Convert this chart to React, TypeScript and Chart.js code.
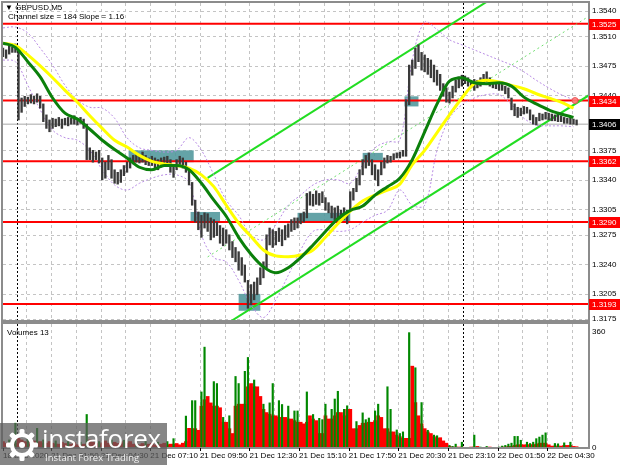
import React, { useEffect, useRef } from "react";
import { Chart, registerables } from "chart.js";
Chart.register(...registerables);

const FONT = '"Liberation Sans", Arial, sans-serif';

// ---- x axis (bar index of 5-minute bars) ----
const xMin = 0;
const xMax = 378;
const xLabelIdx = [0, 31, 63, 95, 127, 159, 191, 223, 255, 287, 319, 351];
const xLabels = ["18 Dec 2020", "21 Dec 01:50", "21 Dec 04:30", "21 Dec 07:10", "21 Dec 09:50", "21 Dec 12:30", "21 Dec 15:10", "21 Dec 17:50", "21 Dec 20:30", "21 Dec 23:10", "22 Dec 01:50", "22 Dec 04:30"];
const xGridIdx = [15, 31, 47, 63, 79, 95, 111, 127, 143, 159, 175, 191, 207, 223, 239, 255, 271, 287, 303, 319, 335, 351, 367];
const daySepIdx = [9, 297];

// ---- price axis ----
const priceMin = 1.31729;
const priceMax = 1.35495;
const priceTicks = [1.354, 1.351, 1.3475, 1.344, 1.3375, 1.334, 1.3305, 1.3275, 1.324, 1.3205, 1.3175];
const levels = [1.3525, 1.3434, 1.3362, 1.329, 1.3193];
const currentPrice = 1.3406;
const alertIdx = 369;
const alertPrice = 1.3434;

// ---- price bars (one sample every 2 bars) ----
const candleHigh = [
  1.3496, 1.3494, 1.3499, 1.3497, 1.3501, 1.3496, 1.3437, 1.3439, 1.3438, 1.3441,
  1.3439, 1.3442, 1.3439, 1.343, 1.3417, 1.3411, 1.3413, 1.3412, 1.3414, 1.3412,
  1.3413, 1.3414, 1.3413, 1.3416, 1.3413, 1.3414, 1.3412, 1.3406, 1.3378, 1.3375,
  1.3373, 1.3375, 1.3366, 1.3361, 1.3369, 1.3364, 1.3352, 1.3349, 1.3352, 1.3357,
  1.3361, 1.3366, 1.3369, 1.3371, 1.3368, 1.3373, 1.3369, 1.3366, 1.3368, 1.3366,
  1.3364, 1.3366, 1.3367, 1.3368, 1.3364, 1.3358, 1.3364, 1.3368, 1.3366, 1.3361,
  1.3354, 1.3337, 1.3316, 1.3302, 1.3298, 1.3301, 1.33, 1.3295, 1.3293, 1.329,
  1.3286, 1.3283, 1.3281, 1.3275, 1.3267, 1.326, 1.3255, 1.3248, 1.3239, 1.3221,
  1.3216, 1.3219, 1.3224, 1.3236, 1.3243, 1.3275, 1.3283, 1.3281, 1.3279, 1.3283,
  1.3281, 1.3286, 1.3288, 1.3293, 1.3295, 1.3295, 1.33, 1.3302, 1.3324, 1.3326,
  1.3323, 1.3327, 1.3324, 1.3326, 1.3319, 1.3313, 1.3309, 1.3307, 1.3309, 1.3304,
  1.3307, 1.3304, 1.3326, 1.333, 1.3342, 1.3352, 1.3364, 1.3369, 1.3372, 1.3364,
  1.3358, 1.3352, 1.3361, 1.3366, 1.3369, 1.3368, 1.3371, 1.3372, 1.3373, 1.3375,
  1.3435, 1.3476, 1.3482, 1.3496, 1.35, 1.3491, 1.3488, 1.3484, 1.3482, 1.3476,
  1.347, 1.3465, 1.3454, 1.3449, 1.3444, 1.3451, 1.3458, 1.3462, 1.3464, 1.3463,
  1.3461, 1.3458, 1.3459, 1.3458, 1.3461, 1.3465, 1.3468, 1.3461, 1.3458, 1.3456,
  1.3455, 1.3454, 1.3451, 1.3449, 1.3437, 1.343, 1.3426, 1.3425, 1.3427, 1.3426,
  1.3423, 1.3417, 1.3414, 1.3419, 1.3418, 1.342, 1.3419, 1.3418, 1.3417, 1.3418,
  1.3416, 1.3414, 1.3413, 1.3414, 1.3412, 1.3411,
];
const candleLow = [
  1.3486, 1.3484, 1.3489, 1.3491, 1.3491, 1.3411, 1.342, 1.3427, 1.343, 1.3431,
  1.343, 1.3432, 1.3425, 1.3409, 1.3401, 1.3397, 1.3401, 1.3403, 1.3404, 1.3401,
  1.3405, 1.3404, 1.3406, 1.3406, 1.3405, 1.3407, 1.3401, 1.3364, 1.3364, 1.3361,
  1.3364, 1.336, 1.334, 1.3342, 1.3352, 1.3342, 1.3336, 1.3335, 1.3337, 1.3345,
  1.3349, 1.3354, 1.3359, 1.3361, 1.336, 1.3361, 1.3358, 1.3357, 1.3357, 1.3354,
  1.3352, 1.3355, 1.3357, 1.3358, 1.3349, 1.3343, 1.3352, 1.3358, 1.3354, 1.3349,
  1.3334, 1.331, 1.329, 1.3281, 1.3272, 1.3283, 1.3279, 1.3269, 1.3272, 1.3274,
  1.3265, 1.3262, 1.3265, 1.3257, 1.3248, 1.3243, 1.3233, 1.3227, 1.3219, 1.3188,
  1.3192, 1.3198, 1.3204, 1.3216, 1.3224, 1.3236, 1.3263, 1.326, 1.3263, 1.3267,
  1.3262, 1.3269, 1.3272, 1.3279, 1.3281, 1.3283, 1.3288, 1.329, 1.3295, 1.331,
  1.3309, 1.3311, 1.331, 1.3313, 1.3304, 1.3301, 1.3295, 1.3293, 1.3295, 1.329,
  1.3293, 1.3288, 1.3304, 1.3316, 1.3326, 1.3334, 1.3346, 1.3354, 1.3357, 1.3346,
  1.334, 1.3333, 1.3346, 1.3354, 1.336, 1.3361, 1.3364, 1.3366, 1.3366, 1.3368,
  1.3368, 1.3429, 1.3464, 1.3472, 1.348, 1.347, 1.3468, 1.3465, 1.3461, 1.3456,
  1.3452, 1.3446, 1.3439, 1.3432, 1.3431, 1.3437, 1.3444, 1.3449, 1.3451, 1.3454,
  1.3451, 1.3449, 1.3446, 1.3449, 1.3451, 1.3455, 1.3456, 1.3451, 1.3449, 1.3448,
  1.3446, 1.3446, 1.3442, 1.3437, 1.3423, 1.3416, 1.3414, 1.3416, 1.3418, 1.3419,
  1.3411, 1.3406, 1.3405, 1.341, 1.3411, 1.3412, 1.3411, 1.341, 1.341, 1.3409,
  1.3409, 1.3407, 1.3407, 1.3406, 1.3406, 1.3405,
];

// ---- indicators (one sample every 8 bars) ----
const maYellow = [
  1.3502, 1.3499, 1.3488, 1.3475, 1.3461, 1.3446, 1.3432, 1.3416, 1.3401, 1.3387,
  1.3379, 1.3369, 1.3362, 1.3359, 1.3357, 1.3354, 1.3346, 1.3332, 1.331, 1.3289,
  1.3273, 1.3257, 1.325, 1.3249, 1.3251, 1.3257, 1.3272, 1.3288, 1.3303, 1.3315,
  1.3322, 1.3328, 1.3335, 1.3358, 1.3375, 1.3396, 1.3417, 1.3437, 1.3454, 1.3458,
  1.3456, 1.3452, 1.3448, 1.3442, 1.3437, 1.3432, 1.3425,
];
const maGreen = [
  1.3502, 1.3497, 1.348, 1.3462, 1.3437, 1.3419, 1.3412, 1.34, 1.3387, 1.3376,
  1.3366, 1.3355, 1.3352, 1.3357, 1.3357, 1.3352, 1.3336, 1.3316, 1.3297, 1.3272,
  1.3252, 1.3237, 1.323, 1.3236, 1.3248, 1.3263, 1.3279, 1.3294, 1.3304, 1.3309,
  1.3322, 1.3332, 1.3342, 1.3364, 1.3397, 1.343, 1.3457, 1.3461, 1.3455, 1.3454,
  1.3455, 1.3451, 1.3438, 1.343, 1.3423, 1.3418, 1.3414,
];
const bandUpper = [
  1.352, 1.3521, 1.3514, 1.3496, 1.3476, 1.3452, 1.3435, 1.3426, 1.3425, 1.3413,
  1.339, 1.3378, 1.3375, 1.3373, 1.3375, 1.339, 1.3375, 1.3346, 1.3316, 1.3298,
  1.3275, 1.3269, 1.3287, 1.331, 1.3322, 1.3334, 1.334, 1.334, 1.3336, 1.3358,
  1.3378, 1.3385, 1.3387, 1.3482, 1.3527, 1.3518, 1.3506, 1.35, 1.3494, 1.3488,
  1.3482, 1.3476, 1.3468, 1.3458, 1.3449, 1.3441, 1.3435,
];
const bandLower = [
  1.3482, 1.348, 1.3452, 1.3423, 1.3399, 1.339, 1.3387, 1.3375, 1.3352, 1.3334,
  1.3328, 1.3336, 1.3342, 1.3346, 1.3346, 1.3337, 1.3275, 1.3248, 1.3243, 1.3221,
  1.3192, 1.3177, 1.3198, 1.3227, 1.3257, 1.3279, 1.3281, 1.3279, 1.3281, 1.329,
  1.3298, 1.3304, 1.3328, 1.331, 1.331, 1.3375, 1.3413, 1.3429, 1.3437, 1.3441,
  1.3441, 1.3429, 1.3413, 1.3405, 1.3404, 1.3404, 1.3403,
];

// ---- regression channel ----
const chanIdx = [132, 378];
const chanUpper = [1.33423, 1.36274];
const chanMid = [1.32488, 1.35339];
const chanLower = [1.31552, 1.34403];

// ---- highlight boxes ----
const boxStart = [81, 121, 152, 190, 232, 259];
const boxEnd = [123, 140, 166, 224, 245, 268];
const boxHigh = [1.3375, 1.3302, 1.3205, 1.3301, 1.3372, 1.3439];
const boxLow = [1.3361, 1.329, 1.3185, 1.3289, 1.3361, 1.3427];

// ---- volumes (one sample every 2 bars) ----
const volumeMax = 384.8;
const volumeTicks = [0, 360];
const volRed = [
  20, 15, 15, 18, 15, 30, 25, 20, 18, 18,
  22, 18, 20, 15, 15, 20, 15, 12, 12, 18,
  14, 12, 12, 16, 10, 10, 12, 12, 25, 18,
  14, 12, 16, 22, 15, 15, 18, 14, 20, 15,
  15, 20, 12, 10, 10, 14, 10, 12, 15, 10,
  10, 12, 15, 10, 12, 12, 14, 10, 15, 20,
  61, 60, 60, 55, 130, 150, 160, 140, 130, 130,
  125, 80, 80, 60, 45, 130, 136, 136, 136, 190,
  200, 190, 190, 160, 120, 110, 105, 100, 100, 95,
  95, 95, 90, 90, 85, 80, 80, 75, 80, 100,
  90, 85, 45, 45, 100, 90, 90, 100, 110, 110,
  100, 120, 120, 60, 60, 70, 77, 77, 80, 80,
  85, 100, 95, 60, 60, 50, 50, 40, 35, 30,
  30, 30, 254, 141, 100, 75, 60, 50, 45, 35,
  30, 32, 22, 15, 5, 3, 3, 3, 3, 2,
  2, 3, 3, 5, 2, 2, 2, 3, 2, 1,
  1, 3, 3, 5, 5, 8, 10, 10, 10, 10,
  10, 10, 12, 15, 15, 15, 10, 6, 6, 6,
  6, 8, 8, 8, 5, 4,
];
const volGreen = [
  null, null, 25, null, 77, null, null, null, 28, null,
  null, 61, null, 25, null, null, null, 22, null, null,
  null, 20, null, null, null, 18, null, 104, null, null,
  null, 20, null, null, null, 25, null, null, null, 24,
  null, null, null, 18, null, null, 20, null, null, null,
  18, null, null, 20, null, 29, null, null, null, 99,
  null, 147, 147, null, 174, 313, null, null, 206, 200,
  null, 95, null, 100, null, 222, 200, null, 238, 281,
  null, 211, null, null, 136, null, 140, 200, null, 147,
  135, null, 130, null, 115, 115, null, null, 174, null,
  104, null, 92, 88, 136, null, 120, 152, 176, null,
  120, 131, null, null, 82, null, 109, 88, 93, null,
  115, 136, null, null, 190, 120, null, 56, 45, 50,
  null, 358, null, 249, null, 141, null, 55, null, 40,
  38, null, null, null, 8, 5, 12, null, 18, null,
  null, null, 40, null, 3, null, 5, null, null, null,
  3, 6, 8, 12, 15, 36, 36, 24, null, 18,
  14, 18, 29, 34, 40, 47, null, null, 14, 13,
  null, 16, null, 18, null, null,
];

const GRID = "#c4c4c4";
const FRAME = "#8c8c8c";

function seg(ctx: CanvasRenderingContext2D, x1: number, y1: number, x2: number, y2: number) {
  ctx.beginPath();
  ctx.moveTo(x1, y1);
  ctx.lineTo(x2, y2);
  ctx.stroke();
}

function drawVerticalGuides(chart: any) {
  const { ctx, chartArea: a, scales } = chart;
  const x = scales.x;
  ctx.save();
  ctx.lineWidth = 1;
  ctx.strokeStyle = GRID;
  ctx.setLineDash([3, 3]);
  for (const i of xGridIdx) {
    const px = Math.round(x.getPixelForValue(i)) + 0.5;
    seg(ctx, px, a.top, px, a.bottom);
  }
  ctx.strokeStyle = "#000";
  ctx.setLineDash([2, 2]);
  for (const i of daySepIdx) {
    const px = Math.round(x.getPixelForValue(i)) + 0.5;
    seg(ctx, px, a.top, px, a.bottom);
  }
  ctx.restore();
}

function drawFrame(chart: any) {
  const { ctx, chartArea: a } = chart;
  ctx.save();
  ctx.strokeStyle = FRAME;
  ctx.lineWidth = 2;
  ctx.setLineDash([]);
  ctx.strokeRect(a.left - 1, a.top - 1, a.right - a.left + 1, a.bottom - a.top + 1);
  ctx.restore();
}

const pricePlugin = {
  id: "pricePanel",
  beforeDatasetsDraw(chart: any) {
    const { ctx, chartArea: a, scales } = chart;
    const y = scales.y;
    const x = scales.x;
    ctx.save();
    ctx.lineWidth = 1;
    ctx.strokeStyle = GRID;
    ctx.setLineDash([3, 3]);
    for (const v of priceTicks) {
      const py = Math.round(y.getPixelForValue(v)) + 0.5;
      seg(ctx, a.left, py, a.right, py);
    }
    ctx.restore();
    drawVerticalGuides(chart);
    ctx.save();
    ctx.fillStyle = "rgba(78,150,155,0.88)";
    for (let i = 0; i < boxStart.length; i++) {
      const x0 = x.getPixelForValue(boxStart[i]);
      const x1 = x.getPixelForValue(boxEnd[i]);
      const y0 = y.getPixelForValue(boxHigh[i]);
      const y1 = y.getPixelForValue(boxLow[i]);
      ctx.fillRect(x0, y0, x1 - x0, y1 - y0);
    }
    ctx.restore();
  },
  afterDraw(chart: any) {
    const { ctx, chartArea: a, scales } = chart;
    const y = scales.y;
    drawFrame(chart);
    ctx.save();
    ctx.font = `8px ${FONT}`;
    ctx.textBaseline = "middle";
    ctx.textAlign = "left";
    const tag = (v: number, bg: string) => {
      const py = Math.round(y.getPixelForValue(v));
      ctx.fillStyle = bg;
      ctx.fillRect(a.right, py - 5, 620 - a.right, 11);
      ctx.fillStyle = "#fff";
      ctx.fillText(v.toFixed(4), a.right + 3, py + 0.5);
    };
    for (const v of levels) tag(v, "#ff0000");
    tag(currentPrice, "#000");
    ctx.restore();
  },
};

const volumePlugin = {
  id: "volumePanel",
  beforeDatasetsDraw(chart: any) {
    drawVerticalGuides(chart);
  },
  afterDraw(chart: any) {
    const { ctx, chartArea: a, scales } = chart;
    drawFrame(chart);
    ctx.save();
    ctx.strokeStyle = "#000";
    ctx.lineWidth = 1;
    for (const i of xLabelIdx) {
      const px = Math.round(scales.x.getPixelForValue(i)) + 0.5;
      seg(ctx, px, a.bottom, px, a.bottom + 3);
    }
    ctx.restore();
  },
};

const tickFont = { family: FONT, size: 8 };
const noPad = (s: any) => {
  s.paddingTop = 0;
  s.paddingBottom = 0;
  s.paddingLeft = 0;
  s.paddingRight = 0;
};

export default function App() {
  const priceRef = useRef<HTMLCanvasElement | null>(null);
  const volRef = useRef<HTMLCanvasElement | null>(null);

  useEffect(() => {
    if (!priceRef.current || !volRef.current) return;
    const candleIdx = candleHigh.map((_, k) => k * 2);
    const maIdx = maYellow.map((_, j) => j * 8);
    const pts = (vals: number[], idx: number[]) => vals.map((v, i) => ({ x: idx[i], y: v }));
    const flat = (v: number) => [{ x: xMin, y: v }, { x: xMax, y: v }];

    const levelSets = levels.map((v) => ({
      type: "line" as const,
      data: flat(v),
      borderColor: "#ff0000",
      borderWidth: 2,
      pointRadius: 0,
      order: 8,
    }));

    const priceChart = new Chart(priceRef.current, {
      type: "line",
      data: {
        datasets: [
          { type: "line", data: flat(currentPrice), borderColor: "#a8a8a8", borderWidth: 1, pointRadius: 0, order: 9 },
          ...levelSets,
          { type: "line", data: pts(chanUpper, chanIdx), borderColor: "#22dd22", borderWidth: 2, pointRadius: 0, order: 7 },
          { type: "line", data: pts(chanLower, chanIdx), borderColor: "#22dd22", borderWidth: 2, pointRadius: 0, order: 7 },
          { type: "line", data: pts(chanMid, chanIdx), borderColor: "#6ede6e", borderWidth: 1, borderDash: [2, 3], pointRadius: 0, order: 7 },
          { type: "line", data: pts(bandUpper, maIdx), borderColor: "#b88ce4", borderWidth: 1, borderDash: [2, 2], pointRadius: 0, tension: 0.35, order: 6 },
          { type: "line", data: pts(bandLower, maIdx), borderColor: "#b88ce4", borderWidth: 1, borderDash: [2, 2], pointRadius: 0, tension: 0.35, order: 6 },
          {
            type: "bar",
            data: candleHigh.map((h, k) => ({ x: candleIdx[k], y: [candleLow[k], h] })) as any,
            backgroundColor: "#3a3a3a",
            barThickness: 1.7,
            grouped: false,
            order: 5,
          } as any,
          { type: "line", data: pts(maYellow, maIdx), borderColor: "#ffff00", borderWidth: 3, pointRadius: 0, cubicInterpolationMode: "monotone", order: 4 },
          { type: "line", data: pts(maGreen, maIdx), borderColor: "#0b800b", borderWidth: 3, pointRadius: 0, cubicInterpolationMode: "monotone", order: 3 },
          { type: "line", data: [{ x: alertIdx, y: alertPrice }], showLine: false, pointRadius: 3, pointBackgroundColor: "rgba(255,120,120,0.85)", pointBorderColor: "rgba(230,80,80,0.9)", pointBorderWidth: 1, order: 1 },
        ] as any,
      },
      options: {
        animation: false,
        responsive: false,
        maintainAspectRatio: false,
        events: [],
        layout: { autoPadding: false, padding: { left: 3, top: 3, right: 0, bottom: 1 } },
        plugins: { legend: { display: false }, tooltip: { enabled: false } },
        scales: {
          x: { type: "linear", display: false, min: xMin, max: xMax, offset: false },
          y: {
            type: "linear",
            position: "right",
            min: priceMin,
            max: priceMax,
            grid: { display: false, drawTicks: false, tickLength: 0 },
            border: { display: false },
            ticks: {
              font: tickFont,
              color: "#000",
              padding: 3,
              crossAlign: "near",
              autoSkip: false,
              callback: (v: any) => Number(v).toFixed(4),
            },
            afterBuildTicks: (s: any) => {
              s.ticks = priceTicks.map((v) => ({ value: v }));
            },
            afterFit: (s: any) => {
              s.width = 31;
              noPad(s);
            },
          },
        },
      } as any,
      plugins: [pricePlugin],
    });

    const xTickVals = [0, ...xGridIdx];
    const volChart = new Chart(volRef.current, {
      type: "bar",
      data: {
        datasets: [
          {
            data: volGreen.map((v, k) => (v == null ? null : { x: k * 2, y: v })).filter(Boolean) as any,
            backgroundColor: "#008800",
            barThickness: 1.5,
            grouped: false,
            order: 1,
          },
          {
            data: volRed.map((v, k) => ({ x: k * 2, y: v })) as any,
            backgroundColor: "#ff0000",
            barThickness: 3.1,
            grouped: false,
            order: 2,
          },
        ] as any,
      },
      options: {
        animation: false,
        responsive: false,
        maintainAspectRatio: false,
        events: [],
        layout: { autoPadding: false, padding: { left: 3, top: 2, right: 0, bottom: 0 } },
        plugins: { legend: { display: false }, tooltip: { enabled: false } },
        scales: {
          x: {
            type: "linear",
            min: xMin,
            max: xMax,
            offset: false,
            grid: { display: false, drawTicks: false, tickLength: 0 },
            border: { display: false },
            ticks: {
              font: tickFont,
              color: "#000",
              padding: 3,
              align: "start",
              autoSkip: false,
              maxRotation: 0,
              minRotation: 0,
              callback: (v: any) => {
                const i = xLabelIdx.indexOf(Number(v));
                return i >= 0 ? xLabels[i] : "";
              },
            },
            afterBuildTicks: (s: any) => {
              s.ticks = xTickVals.map((v) => ({ value: v }));
            },
            afterFit: (s: any) => {
              s.height = 17;
              noPad(s);
            },
          },
          y: {
            type: "linear",
            position: "right",
            min: 0,
            max: volumeMax,
            grid: { display: false, drawTicks: false, tickLength: 0 },
            border: { display: false },
            ticks: { font: tickFont, color: "#000", padding: 3, crossAlign: "near", autoSkip: false },
            afterBuildTicks: (s: any) => {
              s.ticks = volumeTicks.map((v) => ({ value: v }));
            },
            afterFit: (s: any) => {
              s.width = 31;
              noPad(s);
            },
          },
        },
      } as any,
      plugins: [volumePlugin],
    });

    return () => {
      priceChart.destroy();
      volChart.destroy();
    };
  }, []);

  const small: React.CSSProperties = { position: "absolute", fontFamily: FONT, fontSize: 8, color: "#000", whiteSpace: "nowrap", lineHeight: "10px" };

  return (
    <div style={{ position: "absolute", left: 0, top: 0, width: 620, height: 465, background: "#fff", overflow: "hidden" }}>
      <canvas ref={priceRef} width={620} height={322} style={{ position: "absolute", left: 0, top: 0, display: "block" }} />
      <canvas ref={volRef} width={620} height={143} style={{ position: "absolute", left: 0, top: 322, display: "block" }} />
      <div style={{ ...small, left: 5, top: 3 }}>▼ GBPUSD,M5</div>
      <div style={{ ...small, left: 8, top: 12 }}>Channel size = 184 Slope = 1.16</div>
      <div style={{ ...small, left: 7, top: 328 }}>Volumes 13</div>
      <div style={{ position: "absolute", left: 0, top: 423, width: 167, height: 42, background: "rgba(92,92,92,0.74)" }}>
        <svg width={36} height={36} viewBox="0 0 36 36" style={{ position: "absolute", left: 4, top: 4 }}>
          {[0, 45, 90, 135, 180, 225, 270, 315].map((a) => (
            <rect key={a} x={15.5} y={2} width={5} height={7} rx={1.5} fill="#fff" transform={`rotate(${a} 18 18)`} />
          ))}
          <circle cx={18} cy={18} r={10} fill="none" stroke="#fff" strokeWidth={4} />
          <circle cx={18} cy={18} r={3} fill="#fff" />
        </svg>
        <div style={{ position: "absolute", left: 42, top: 1, fontFamily: '"Open Sans", sans-serif', fontSize: 26, lineHeight: "28px", color: "#fff", letterSpacing: -0.3 }}>instaforex</div>
        <div style={{ position: "absolute", left: 45, top: 29, fontFamily: '"Open Sans", sans-serif', fontSize: 9.5, lineHeight: "11px", color: "#f0f0f0" }}>Instant Forex Trading</div>
      </div>
    </div>
  );
}
